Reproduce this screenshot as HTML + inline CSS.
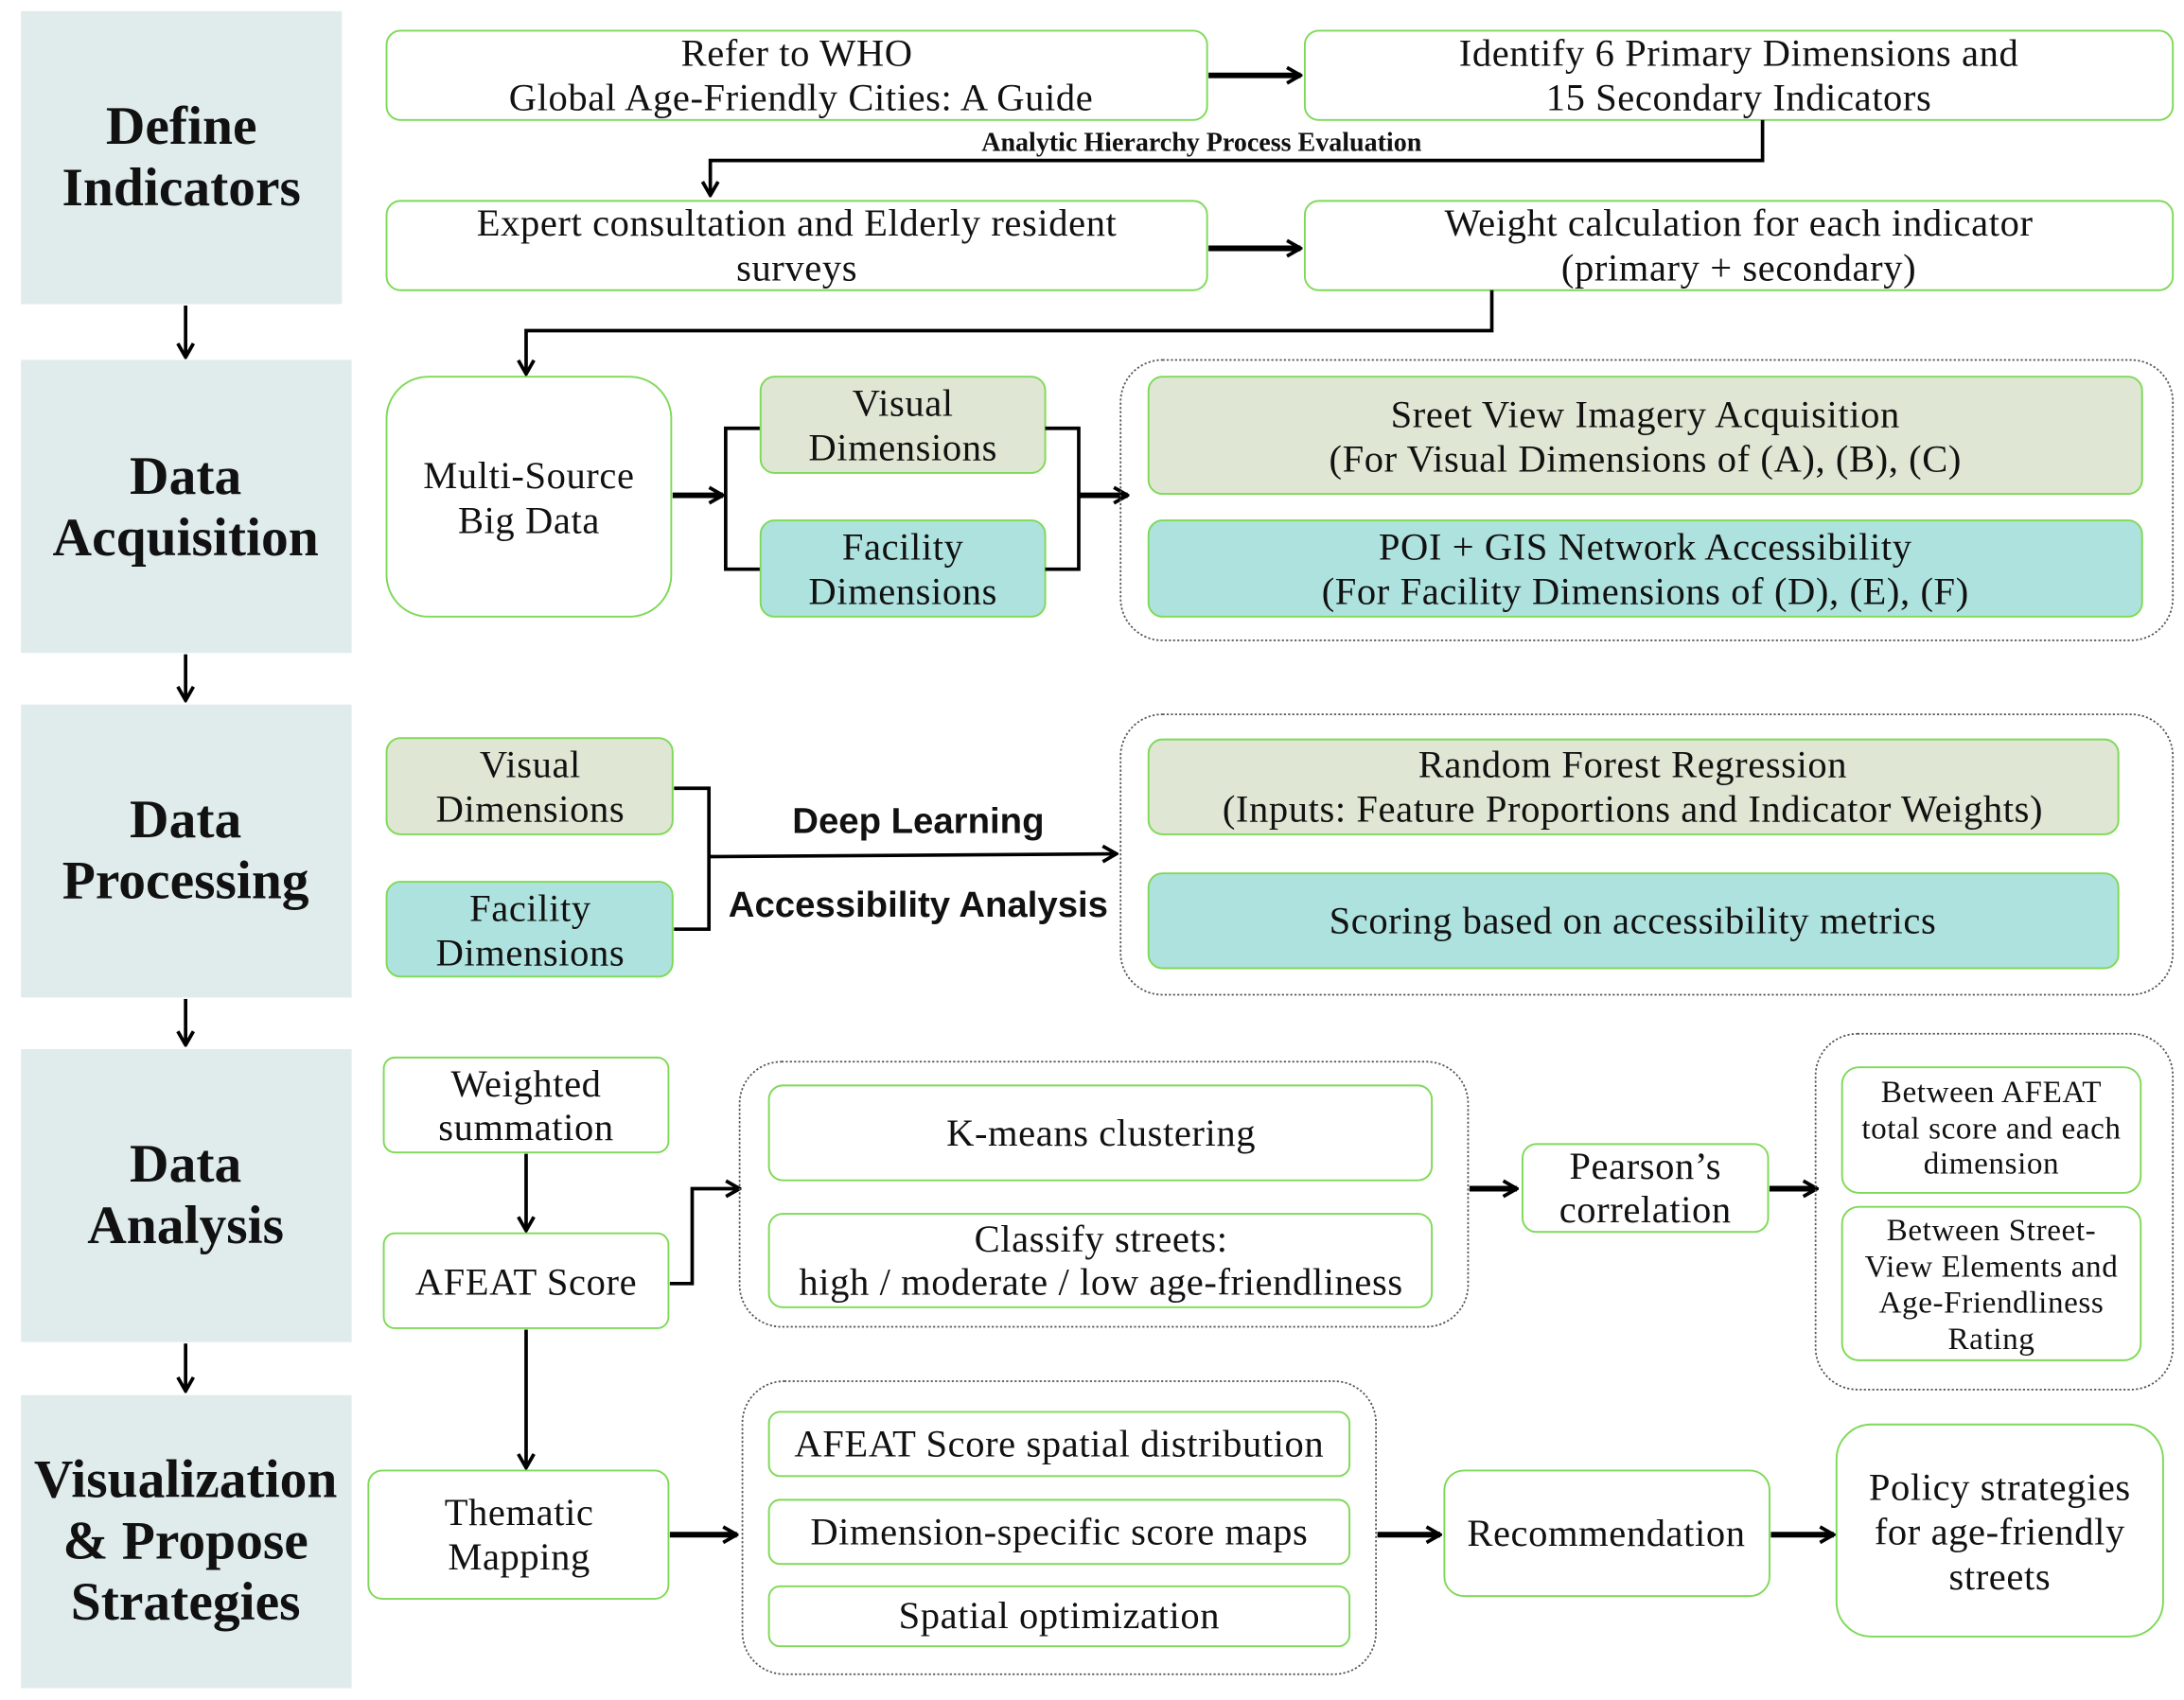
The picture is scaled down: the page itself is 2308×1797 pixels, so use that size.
<!DOCTYPE html>
<html><head><meta charset="utf-8"><style>
html,body{margin:0;padding:0;background:#fff;}
svg{display:block}
text{font-family:"Liberation Serif",serif;fill:#111;text-anchor:middle;}
.b{font-size:27.5px;letter-spacing:0.4px}
.s{font-size:22.5px;letter-spacing:0.4px}
.h{font-size:39px;font-weight:bold}
.sans{font-family:"Liberation Sans",sans-serif;font-weight:bold;font-size:26px}
.g{fill:#fff;stroke:#7ed957;stroke-width:1.3}
.v{fill:#dfe6d3;stroke:#7ed957;stroke-width:1.3}
.t{fill:#aee2de;stroke:#7ed957;stroke-width:1.3}
.d{fill:none;stroke:#555;stroke-width:1.2;stroke-dasharray:1.5 1.5}
.l{fill:none;stroke:#000;stroke-width:2.5}
.L{fill:none;stroke:#000;stroke-width:4}
.side{fill:#e0ecec}
</style></head><body>
<svg width="2308" height="1797" viewBox="0 0 1565 1218.5" xmlns="http://www.w3.org/2000/svg">
<defs>
<marker id="A" viewBox="0 0 10 10" refX="9" refY="5" markerWidth="14" markerHeight="14" orient="auto" markerUnits="userSpaceOnUse"><path d="M2 1 L9 5 L2 9" fill="none" stroke="#000" stroke-width="1.8"/></marker>
</defs>
<rect class="side" x="15" y="8" width="230" height="210"/>
<rect class="side" x="15" y="258" width="237" height="210"/>
<rect class="side" x="15" y="505" width="237" height="210"/>
<rect class="side" x="15" y="752" width="237" height="210"/>
<rect class="side" x="15" y="1000" width="237" height="210"/>
<text class="h" x="130" y="103">Define</text><text class="h" x="130" y="147">Indicators</text>
<text class="h" x="133" y="354">Data</text><text class="h" x="133" y="398">Acquisition</text>
<text class="h" x="133" y="600">Data</text><text class="h" x="133" y="644">Processing</text>
<text class="h" x="133" y="847">Data</text><text class="h" x="133" y="891">Analysis</text>
<text class="h" x="133" y="1073">Visualization</text><text class="h" x="133" y="1117">&amp; Propose</text><text class="h" x="133" y="1161">Strategies</text>
<g class="l" marker-end="url(#A)">
<path d="M133 219 V256"/><path d="M133 469 V502"/><path d="M133 716 V749"/><path d="M133 963 V997"/>
</g>
<rect class="g" x="277" y="22" width="588" height="64" rx="10"/>
<text class="b" x="571" y="47">Refer to WHO</text><text class="b" x="574" y="79">Global Age-Friendly Cities: A Guide</text>
<rect class="g" x="935" y="22" width="622" height="64" rx="10"/>
<text class="b" x="1246" y="47">Identify 6 Primary Dimensions and</text><text class="b" x="1246" y="79">15 Secondary Indicators</text>
<path class="L" d="M866 54 H932" marker-end="url(#A)"/>
<text x="861" y="108" style="font-size:19px;font-weight:bold">Analytic Hierarchy Process Evaluation</text>
<path class="l" d="M1263 86 V115 H509 V140" marker-end="url(#A)"/>
<rect class="g" x="277" y="144" width="588" height="64" rx="10"/>
<text class="b" x="571" y="169">Expert consultation and Elderly resident</text><text class="b" x="571" y="201">surveys</text>
<rect class="g" x="935" y="144" width="622" height="64" rx="10"/>
<text class="b" x="1246" y="169">Weight calculation for each indicator</text><text class="b" x="1246" y="201">(primary + secondary)</text>
<path class="L" d="M866 178 H932" marker-end="url(#A)"/>
<path class="l" d="M1069 208 V237 H377 V268" marker-end="url(#A)"/>
<rect class="g" x="277" y="270" width="204" height="172" rx="30"/>
<text class="b" x="379" y="350">Multi-Source</text><text class="b" x="379" y="382">Big Data</text>
<path class="L" d="M482 355 H518" marker-end="url(#A)"/>
<path class="l" d="M545 307 H520 V408 H545"/>
<rect class="v" x="545" y="270" width="204" height="69" rx="10"/>
<text class="b" x="647" y="298">Visual</text><text class="b" x="647" y="330">Dimensions</text>
<rect class="t" x="545" y="373" width="204" height="69" rx="10"/>
<text class="b" x="647" y="401">Facility</text><text class="b" x="647" y="433">Dimensions</text>
<path class="l" d="M749 307 H773 V408 H749"/>
<path class="L" d="M773 355 H808" marker-end="url(#A)"/>
<rect class="d" x="803" y="258" width="754" height="201" rx="30"/>
<rect class="v" x="823" y="270" width="712" height="84" rx="10"/>
<text class="b" x="1179" y="306">Sreet View Imagery Acquisition</text><text class="b" x="1179" y="338">(For Visual Dimensions of (A), (B), (C)</text>
<rect class="t" x="823" y="373" width="712" height="69" rx="10"/>
<text class="b" x="1179" y="401">POI + GIS Network Accessibility</text><text class="b" x="1179" y="433">(For Facility Dimensions of (D), (E), (F)</text>
<rect class="v" x="277" y="529" width="205" height="69" rx="10"/>
<text class="b" x="380" y="557">Visual</text><text class="b" x="380" y="589">Dimensions</text>
<rect class="t" x="277" y="632" width="205" height="68" rx="10"/>
<text class="b" x="380" y="660">Facility</text><text class="b" x="380" y="692">Dimensions</text>
<path class="l" d="M483 565 H508 V666 H483"/>
<path class="l" d="M508 614 L800 612" marker-end="url(#A)"/>
<text class="sans" x="658" y="597">Deep Learning</text>
<text class="sans" x="658" y="657">Accessibility Analysis</text>
<rect class="d" x="803" y="512" width="754" height="201" rx="30"/>
<rect class="v" x="823" y="530" width="695" height="68" rx="10"/>
<text class="b" x="1170" y="557">Random Forest Regression</text><text class="b" x="1170" y="589">(Inputs: Feature Proportions and Indicator Weights)</text>
<rect class="t" x="823" y="626" width="695" height="68" rx="10"/>
<text class="b" x="1170" y="669">Scoring based on accessibility metrics</text>
<rect class="g" x="275" y="758" width="204" height="68" rx="8"/>
<text class="b" x="377" y="786">Weighted</text><text class="b" x="377" y="817">summation</text>
<path class="l" d="M377 827 V882" marker-end="url(#A)"/>
<rect class="g" x="275" y="884" width="204" height="68" rx="8"/>
<text class="b" x="377" y="928">AFEAT Score</text>
<path class="l" d="M480 920 H496 V852 H530" marker-end="url(#A)"/>
<rect class="d" x="530" y="761" width="522" height="190" rx="30"/>
<rect class="g" x="551" y="778" width="475" height="68" rx="10"/>
<text class="b" x="789" y="821">K-means clustering</text>
<rect class="g" x="551" y="870" width="475" height="67" rx="10"/>
<text class="b" x="789" y="897">Classify streets:</text><text class="b" x="789" y="928">high / moderate / low age-friendliness</text>
<path class="L" d="M1053 852 H1087" marker-end="url(#A)"/>
<rect class="g" x="1091" y="820" width="176" height="63" rx="10"/>
<text class="b" x="1179" y="845">Pearson’s</text><text class="b" x="1179" y="876">correlation</text>
<path class="L" d="M1268 852 H1302" marker-end="url(#A)"/>
<rect class="d" x="1301" y="741" width="256" height="255" rx="30"/>
<rect class="g" x="1320" y="765" width="214" height="90" rx="12"/>
<text class="s" x="1427" y="790">Between AFEAT</text><text class="s" x="1427" y="816">total score and each</text><text class="s" x="1427" y="841">dimension</text>
<rect class="g" x="1320" y="865" width="214" height="110" rx="12"/>
<text class="s" x="1427" y="889">Between Street-</text><text class="s" x="1427" y="915">View Elements and</text><text class="s" x="1427" y="941">Age-Friendliness</text><text class="s" x="1427" y="967">Rating</text>
<path class="l" d="M377 953 V1052" marker-end="url(#A)"/>
<rect class="g" x="264" y="1054" width="215" height="92" rx="10"/>
<text class="b" x="372" y="1093">Thematic</text><text class="b" x="372" y="1125">Mapping</text>
<path class="L" d="M480 1100 H528" marker-end="url(#A)"/>
<rect class="d" x="532" y="990" width="454" height="210" rx="30"/>
<rect class="g" x="551" y="1012" width="416" height="46" rx="8"/>
<text class="b" x="759" y="1044">AFEAT Score spatial distribution</text>
<rect class="g" x="551" y="1075" width="416" height="46" rx="8"/>
<text class="b" x="759" y="1107">Dimension-specific score maps</text>
<rect class="g" x="551" y="1137" width="416" height="43" rx="8"/>
<text class="b" x="759" y="1167">Spatial optimization</text>
<path class="L" d="M987 1100 H1032" marker-end="url(#A)"/>
<rect class="g" x="1035" y="1054" width="233" height="90" rx="14"/>
<text class="b" x="1151" y="1108">Recommendation</text>
<path class="L" d="M1269 1100 H1314" marker-end="url(#A)"/>
<rect class="g" x="1316" y="1021" width="234" height="152" rx="25"/>
<text class="b" x="1433" y="1075">Policy strategies</text><text class="b" x="1433" y="1107">for age-friendly</text><text class="b" x="1433" y="1139">streets</text>
</svg>
</body></html>
